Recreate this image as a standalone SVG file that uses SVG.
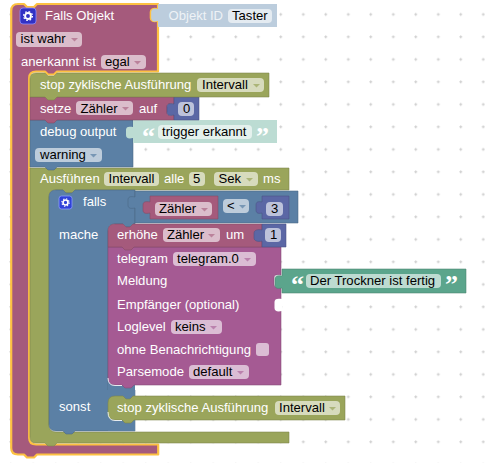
<svg xmlns="http://www.w3.org/2000/svg" width="485" height="463" viewBox="0 0 485 463">
<style>
text{font-family:"Liberation Sans",Arial,sans-serif;font-size:13.1px}
.w{fill:#fff}.wl{fill:#fff;opacity:.75}.k{fill:#000}
.b{stroke-width:1;stroke-linejoin:round;stroke-opacity:.55}
.pm{fill:#a55a7c;stroke:#844863}.gr{fill:#9aa55b;stroke:#7b8449}.bl{fill:#5b80a5;stroke:#496684}.nu{fill:#5b67a5;stroke:#495284}.te{fill:#5ba58c;stroke:#498470}.tg{fill:#a55a93;stroke:#844876}
.tl{fill:#bcdcd3}.ol{fill:#bccddd}
.f{stroke:none}.fp{fill:#dbbdcb}.fg{fill:#d7dbbd}.fb{fill:#bdccdb}.fn{fill:#bdc2db}.ft{fill:#bddbd1}.ftg{fill:#dbbdd4}.fo{fill:#e4ebf1}.fl{fill:#e4f1ed}
.ap{fill:#a55a7c;opacity:.6}.ag{fill:#9aa55b;opacity:.7}.ab{fill:#5b80a5;opacity:.7}.at{fill:#a55a93;opacity:.6}
.q{font-family:"Liberation Serif",serif;font-size:26px;font-weight:bold;fill:#fff}
.hl{fill:none;stroke:#fff;stroke-width:1;stroke-opacity:.85}
</style>
<defs>
<pattern id="grid" width="22.5" height="22.5" patternUnits="userSpaceOnUse" x="0.3" y="3.9"><path d="M9 10.5h3M10.500 9v3" stroke="#ccc" stroke-width="1"/></pattern>
<symbol id="gear" viewBox="0 0 16 16"><circle cx="8" cy="8" r="3.6" fill="none" stroke="#fff" stroke-width="2.4"/><circle cx="8" cy="8" r="5.4" fill="none" stroke="#fff" stroke-width="1.6" stroke-dasharray="2 2.24"/></symbol>
<path id="ar" d="M0 0H7L3.500 3.500Z"/>
</defs>
<rect width="485" height="463" fill="#fff"/>
<rect width="485" height="463" fill="url(#grid)"/>

<g id="connectors"></g>

<g id="node-falls-objekt">
<path class="pm" style="stroke:#fdc142;stroke-width:2.2;stroke-linejoin:round" d="M11.200 11Q11.200 4 18 4H24L27 7H34L37 4H158V71.500H57L54 74.500H48L45 71.500H36Q29.200 71.500 29.200 78V438Q29.200 444.500 36 444.500H158.200V454.500H37L34 457.500H27L24 454.500H18Q11.200 454.500 11.200 448Z"/>
<rect x="20" y="8" width="16" height="16" rx="3" fill="#3131c4" stroke="#8c8cff" stroke-width=".8"/><use href="#gear" x="21.500" y="9.500" width="13" height="13"/>
<text x="45" y="20" class="w">Falls Objekt</text>
<rect class="f fp" x="16" y="32" width="66" height="15" rx="4"/><text x="20.500" y="43" class="k">ist wahr</text><use href="#ar" class="ap" x="71" y="38"/>
<text x="21" y="66" class="w">anerkannt ist</text>
<rect class="f fp" x="101" y="55" width="45" height="14" rx="4"/><text x="105" y="66" class="k">egal</text><use href="#ar" class="ap" x="134" y="61"/>
</g>

<g id="node-objekt-id">
<path style="fill:#bccddd;stroke:#fdc142;stroke-width:1.6" d="M158 9C153 8 150.500 9 150.500 12V18C150.500 21 153 22 158 21Z"/>
<path class="ol" d="M158 4H277V27H158V21C153 22 151.500 21 151.500 18V12C151.500 9 153 8 158 9Z"/>
<text x="168.500" y="20" class="wl">Objekt ID</text>
<rect class="fo" x="228" y="9" width="44" height="14" rx="4"/><text x="232" y="20" class="k">Taster</text>
</g>

<g id="node-ausfuehren">
<path class="gr b" d="M30 168H289V190H75L72 193H66L63 190H56Q49 190 49 197V425Q49 432 56 432H289V443H57L54 446H48L45 443H36Q30 443 30 437Z"/>
<text x="40" y="183" class="w">Ausführen</text>
<rect class="f fg" x="104" y="172" width="55" height="14" rx="4"/><text x="108.500" y="183" class="k">Intervall</text>
<text x="164" y="183" class="w">alle</text>
<rect class="f fg" x="189" y="172" width="16" height="14" rx="4"/><text x="193" y="183" class="k">5</text>
<rect class="f fg" x="214" y="172" width="44" height="14" rx="4"/><text x="218.500" y="183" class="k">Sek</text><use href="#ar" class="ag" x="246" y="178"/>
<text x="263" y="183" class="w">ms</text>
</g>

<g id="node-debug">
<path class="bl b" d="M30 120H133V167H57L54 170H48L45 167H30Z"/>
<text x="40" y="136" class="w">debug output</text>
<rect class="f fb" x="35" y="148" width="67" height="14" rx="4"/><text x="40" y="159" class="k">warning</text><use href="#ar" class="ab" x="90" y="154"/>
</g>

<g id="node-trigger">
<path class="tl" d="M133 120H277V143H133V138C128 139 126 138 126 135V130C126 127 128 126 133 127Z"/>
<text x="142" y="145" class="q">“</text>
<rect class="fl" x="158" y="125" width="94" height="14" rx="4"/><text x="162" y="136" class="k">trigger erkannt</text>
<text x="256" y="145" class="q">”</text>
</g>

<g id="node-setze">
<path class="pm b" d="M30 97H174V104C169 103 167 104 167 107V112C167 115 169 116 174 115V120H57L54 123H48L45 120H30Z"/>
<text x="40" y="113" class="w">setze</text>
<rect class="f fp" x="76" y="101" width="57" height="14" rx="4"/><text x="80.500" y="113" class="k">Zähler</text><use href="#ar" class="ap" x="122" y="107"/>
<text x="139" y="113" class="w">auf</text>
</g>
<g id="node-null">
<path class="nu b" d="M174 97H199V120H174V115C169 116 167 115 167 112V107C167 104 169 103 174 104Z"/>
<rect class="f fn" x="178" y="102" width="16" height="14" rx="4"/><text x="183" y="113" class="k">0</text>
</g>

<g id="node-stop1">
<path class="gr b" d="M36 73H45L48 76H54L57 73H269V97H57L54 100H48L45 97H30V79Q30 73 36 73Z"/>
<text x="40" y="89" class="w">stop zyklische Ausführung</text>
<rect class="f fg" x="197" y="78" width="67" height="14" rx="4"/><text x="202" y="89" class="k">Intervall</text><use href="#ar" class="ag" x="253" y="84"/>
</g>

<g id="node-falls">
<path class="bl b" d="M56 190H63L66 193H72L75 190H135V224H133L130 227H126L123 224H115Q108 224 108 231V390H135V431H75L72 434H66L63 431H56Q49 431 49 424V197Q49 190 56 190Z"/>
<path fill="#5b80a5" d="M108 380H135V431H108Z"/>
<rect x="59" y="196" width="13" height="13" rx="2.500" fill="#2f42d8" stroke="#8c9cff" stroke-width=".8"/><use href="#gear" x="60" y="197" width="11" height="11"/>
<text x="83" y="206" class="w">falls</text>
<text x="59" y="239" class="w">mache</text>
<text x="59" y="411" class="w">sonst</text>
</g>

<g id="node-vergleich">
<path class="bl b" d="M135 191H298V223H135V208C130 209 128 208 128 205V200C128 197 130 196 135 197Z"/>
<rect class="f fb" x="223" y="199" width="26" height="14" rx="4"/><text x="227" y="210" class="k">&lt;</text><use href="#ar" class="ab" x="239" y="205"/>
</g>
<g id="node-zaehler">
<path class="pm b" d="M150 196H218V219H150V213C145 214 143 213 143 210V205C143 202 145 201 150 202Z"/>
<rect class="f fp" x="155" y="202" width="57" height="14" rx="4"/><text x="159" y="213" class="k">Zähler</text><use href="#ar" class="ap" x="201" y="208"/>
</g>
<g id="node-drei">
<path class="nu b" d="M262 196H289V219H262V213C258 214 256 213 256 210V205C256 202 258 201 262 202Z"/>
<rect class="f fn" x="266" y="202" width="17" height="14" rx="4"/><text x="271" y="213" class="k">3</text>
</g>

<g id="node-telegram">
<path class="tg b" d="M108 247H281V275C276 274 274 275 274 278V284C274 287 276 288 281 287V385H134L131 388H125L122 385H115Q108 385 108 378Z"/>
<path fill="#fff" d="M282 299C277 298 274.500 299 274.500 302V308C274.500 311 277 312 282 311Z"/>
<path class="hl" d="M108 378Q108 385.500 115 385.500H122"/>
<text x="117" y="263" class="w">telegram</text>
<rect class="f ftg" x="173" y="252" width="83" height="14" rx="4"/><text x="177" y="263" class="k">telegram.0</text><use href="#ar" class="at" x="244" y="258"/>
<text x="117" y="285" class="w">Meldung</text>
<text x="117" y="309" class="w">Empfänger (optional)</text>
<text x="117" y="331" class="w">Loglevel</text>
<rect class="f ftg" x="171" y="320" width="51" height="14" rx="4"/><text x="175" y="331" class="k">keins</text><use href="#ar" class="at" x="210" y="326"/>
<text x="117" y="354" class="w">ohne Benachrichtigung</text>
<rect class="f ftg" x="256" y="343" width="13" height="13" rx="3"/>
<text x="117" y="376" class="w">Parsemode</text>
<rect class="f ftg" x="189" y="365" width="60" height="14" rx="4"/><text x="193" y="376" class="k">default</text><use href="#ar" class="at" x="237" y="371"/>
</g>

<g id="node-text-trockner">
<path class="te b" d="M282 269H466V293H282V288C277 289 275 288 275 285V279C275 276 277 275 282 276Z"/>
<text x="291" y="293" class="q">“</text>
<rect class="f ft" x="306" y="274" width="135" height="14" rx="4"/><text x="310" y="285" class="k">Der Trockner ist fertig</text>
<text x="445" y="293" class="q">”</text>
</g>

<g id="node-erhoehe">
<path class="pm b" d="M115 224H123L126 227H130L133 224H262V247H134L131 250H125L122 247H108V231Q108 224 115 224Z"/>
<text x="117" y="239" class="w">erhöhe</text>
<rect class="f fp" x="163" y="228" width="57" height="14" rx="4"/><text x="167" y="239" class="k">Zähler</text><use href="#ar" class="ap" x="208" y="234"/>
<text x="226" y="239" class="w">um</text>
</g>
<g id="node-eins">
<path class="nu b" d="M262 224H286V247H262V241C258 242 254 241 254 238V233C254 230 258 229 262 230Z"/>
<rect class="f fn" x="265" y="228" width="16" height="14" rx="4"/><text x="270" y="239" class="k">1</text>
</g>

<g id="node-stop2">
<path class="gr b" d="M115 396H123L126 399H130L133 396H345V420H134L131 423H125L122 420H115Q108 420 108 413V403Q108 396 115 396Z"/>
<path class="hl" d="M108 412Q108 420.500 115 420.500H122"/>
<text x="117" y="412" class="w">stop zyklische Ausführung</text>
<rect class="f fg" x="275" y="401" width="65" height="14" rx="4"/><text x="279" y="412" class="k">Intervall</text><use href="#ar" class="ag" x="329" y="407"/>
</g>
</svg>
